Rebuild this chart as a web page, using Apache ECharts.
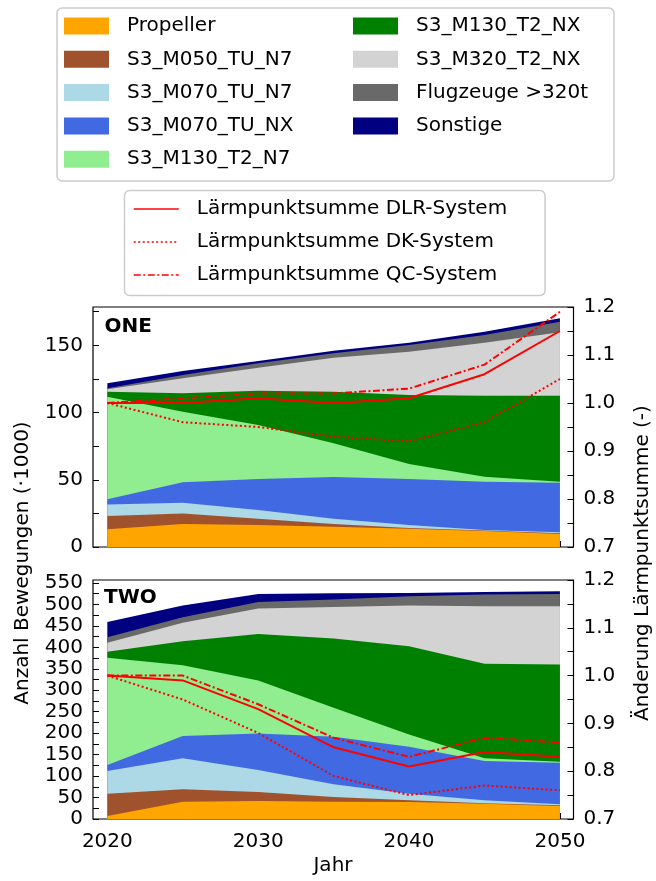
<!DOCTYPE html>
<html><head><meta charset="utf-8">
<script src="https://cdn.jsdelivr.net/npm/echarts@6/dist/echarts.min.js"></script>
<style>html,body{margin:0;padding:0;background:#fff}#c{width:656px;height:881px}</style>
</head><body><div id="c"></div><script>
const years = [2020, 2025, 2030, 2035, 2040, 2045, 2050];
const categories = ['Propeller', 'S3_M050_TU_N7', 'S3_M070_TU_N7', 'S3_M070_TU_NX', 'S3_M130_T2_N7', 'S3_M130_T2_NX', 'S3_M320_T2_NX', 'Flugzeuge >320t', 'Sonstige'];
const colors = ['#FFA500', '#A0522D', '#ADD8E6', '#4169E1', '#90EE90', '#008000', '#D3D3D3', '#696969', '#000080'];
const lineNames = ['Lärmpunktsumme DLR-System', 'Lärmpunktsumme DK-System', 'Lärmpunktsumme QC-System'];

// Scenario ONE (Anzahl Bewegungen, ·1000), per category
const oneProp    = [13.2, 17.1, 16.4, 15.1, 13.6, 11.9, 9.7];
const oneM050N7  = [9.9, 7.9, 4.7, 2.0, 0.5, 0.3, 0.5];
const oneM070N7  = [8.6, 8.0, 6.4, 4.0, 2.3, 0.4, 0.7];
const oneM070NX  = [3.8, 15.1, 23.1, 31.0, 34.2, 36.0, 36.9];
const oneM130N7  = [76.3, 52.5, 40.1, 25.0, 11.1, 3.7, 0.8];
const oneM130NX  = [3.7, 13.7, 25.6, 38.4, 51.4, 60.2, 63.9];
const oneM320NX  = [1.8, 11.2, 17.1, 25.3, 32.2, 39.5, 47.2];
const oneGt320   = [0.7, 2.4, 3.2, 3.3, 4.9, 5.7, 7.9];
const oneSonst   = [3.7, 3.0, 1.7, 1.9, 1.8, 2.4, 2.5];
// Scenario ONE, Lärmpunktsumme
const oneDLR = [1.0, 1.001, 1.008, 1.0, 1.012, 1.056, 1.151];
const oneDK  = [1.0, 0.961, 0.949, 0.928, 0.921, 0.959, 1.048];
const oneQC  = [1.0, 1.015, 1.025, 1.021, 1.035, 1.084, 1.185];

// Scenario TWO
const twoProp    = [7.0, 40.4, 41.9, 40.4, 39.6, 35.7, 30.3];
const twoM050N7  = [52.0, 28.7, 21.0, 10.8, 3.9, 0.8, 1.5];
const twoM070N7  = [52.8, 72.2, 51.2, 29.5, 15.5, 7.0, 2.4];
const twoM070NX  = [13.9, 51.9, 85.3, 110.9, 109.3, 91.5, 96.9];
const twoM130N7  = [249.9, 165.4, 123.5, 67.5, 28.9, 6.3, 2.3];
const twoM130NX  = [14.0, 55.8, 108.5, 161.6, 205.6, 220.3, 226.8];
const twoM320NX  = [20.9, 42.7, 59.2, 73.6, 94.8, 134.3, 135.7];
const twoGt320   = [13.3, 13.2, 15.3, 17.2, 21.6, 27.2, 28.7];
const twoSonst   = [35.6, 27.3, 18.7, 14.7, 7.7, 6.1, 6.3];
const twoDLR = [1.0, 0.987, 0.929, 0.848, 0.811, 0.844, 0.834];
const twoDK  = [1.0, 0.952, 0.881, 0.794, 0.745, 0.773, 0.763];
const twoQC  = [1.0, 0.997, 0.942, 0.865, 0.830, 0.865, 0.856];

// ticks
const xTicks = [2020, 2025, 2030, 2035, 2040, 2045, 2050];
const xLabels = [2020, 2030, 2040, 2050];
const yTicksOne = [0, 25, 50, 75, 100, 125, 150, 175];
const yLabelsOne = [0, 50, 100, 150];
const yTicksTwo = [0, 25, 50, 75, 100, 125, 150, 175, 200, 225, 250, 275, 300, 325, 350, 375, 400, 425, 450, 475, 500, 525, 550];
const yLabelsTwo = [0, 50, 100, 150, 200, 250, 300, 350, 400, 450, 500, 550];
const rTicks = [0.7, 0.75, 0.8, 0.85, 0.9, 0.95, 1.0, 1.05, 1.1, 1.15, 1.2];
const rLabels = [0.7, 0.8, 0.9, 1.0, 1.1, 1.2];

const FONT = 'DejaVu Sans';
const oneAreas = [oneProp, oneM050N7, oneM070N7, oneM070NX, oneM130N7, oneM130NX, oneM320NX, oneGt320, oneSonst];
const twoAreas = [twoProp, twoM050N7, twoM070N7, twoM070NX, twoM130N7, twoM130NX, twoM320NX, twoGt320, twoSonst];
const oneLines = [oneDLR, oneDK, oneQC];
const twoLines = [twoDLR, twoDK, twoQC];
const lineTypes = ['solid', [2, 2.5], [7, 2.5, 2, 2.5]];

// cumulative (stacked) tops, like a stackplot
function cumulative(areas) {
  const out = [];
  areas.forEach((vals, k) => {
    out.push(vals.map((v, i) => (k === 0 ? 0 : out[k - 1][i]) + v));
  });
  return out;
}
function pairs(vals) { return years.map((y, i) => [y, Math.round(vals[i] * 100) / 100]); }

const series = [];
function addPanel(areas, lines, gi) {
  const cum = cumulative(areas);
  // draw top layer first so lower layers cover it
  for (let k = cum.length - 1; k >= 0; k--) {
    series.push({
      type: 'line', name: categories[k], xAxisIndex: gi, yAxisIndex: gi * 2,
      data: pairs(cum[k]), symbol: 'none', showSymbol: false,
      lineStyle: { width: 0, color: colors[k] }, itemStyle: { color: colors[k] },
      areaStyle: { color: colors[k], opacity: 1, origin: 'start' }, z: 2, silent: true
    });
  }
  lines.forEach((vals, k) => {
    series.push({
      type: 'line', name: lineNames[k], xAxisIndex: gi, yAxisIndex: gi * 2 + 1,
      data: pairs(vals), symbol: 'none', showSymbol: false,
      lineStyle: { width: 2, color: '#FF0000', type: lineTypes[k] },
      itemStyle: { color: '#FF0000' }, z: 4, silent: true
    });
  });
}
addPanel(oneAreas, oneLines, 0);
addPanel(twoAreas, twoLines, 1);

const tickCommon = { show: true, inside: true, length: 6, lineStyle: { color: '#000', width: 1 } };
const labelCommon = { fontSize: 20, fontFamily: FONT, color: '#000' };

function xAxis(gi, showLabels) {
  return {
    type: 'value', gridIndex: gi, min: 2019.05, max: 2050.9,
    axisLine: { show: false }, splitLine: { show: false },
    axisTick: Object.assign({ customValues: xTicks }, tickCommon),
    axisLabel: Object.assign({ show: showLabels, customValues: xLabels, margin: 13, formatter: v => String(v) }, labelCommon)
  };
}
function yLeft(gi, max, ticks, labels) {
  return {
    type: 'value', gridIndex: gi, position: 'left', min: 0, max: max,
    axisLine: { show: false }, splitLine: { show: false },
    axisTick: Object.assign({ customValues: ticks }, tickCommon),
    axisLabel: Object.assign({ customValues: labels, margin: 10, formatter: v => String(v) }, labelCommon)
  };
}
function yRight(gi) {
  return {
    type: 'value', gridIndex: gi, position: 'right', min: 0.7, max: 1.2,
    axisLine: { show: false }, splitLine: { show: false },
    axisTick: Object.assign({ customValues: rTicks }, tickCommon),
    axisLabel: Object.assign({ customValues: rLabels, margin: 10, formatter: v => v.toFixed(1) }, labelCommon)
  };
}

const legendCommon = {
  orient: 'vertical', itemWidth: 45, itemHeight: 17, itemGap: 13.3, padding: 0,
  selectedMode: false, z: 10,
  textStyle: { fontSize: 20, fontFamily: FONT, color: '#000', lineHeight: 20, padding: [0, 0, 0, 13] }
};

const option = {
  animation: false,
  backgroundColor: '#fff',
  grid: [
    { left: 93, top: 307, width: 480.5, height: 240, show: true, borderColor: '#000', borderWidth: 1.2, backgroundColor: 'transparent' },
    { left: 93, top: 580, width: 480.5, height: 239, show: true, borderColor: '#000', borderWidth: 1.2, backgroundColor: 'transparent' }
  ],
  xAxis: [xAxis(0, false), xAxis(1, true)],
  yAxis: [yLeft(0, 178.5, yTicksOne, yLabelsOne), yRight(0), yLeft(1, 557, yTicksTwo, yLabelsTwo), yRight(1)],
  legend: [
    Object.assign({}, legendCommon, { data: categories.slice(0, 5), left: 64, top: 16, icon: 'rect' }),
    Object.assign({}, legendCommon, { data: categories.slice(5), left: 353, top: 16, icon: 'rect' }),
    Object.assign({}, legendCommon, { data: lineNames, left: 133, top: 199, itemGap: 13,
      itemStyle: { opacity: 0, borderWidth: 0 }, lineStyle: { width: 1.5 } })
  ],
  graphic: [
    { type: 'rect', z: 1, shape: { x: 57, y: 8, width: 557, height: 173, r: 5 }, style: { fill: 'rgba(255,255,255,0.8)', stroke: '#cccccc', lineWidth: 1.5 } },
    { type: 'rect', z: 1, shape: { x: 124.5, y: 190.5, width: 420.5, height: 105, r: 5 }, style: { fill: 'rgba(255,255,255,0.8)', stroke: '#cccccc', lineWidth: 1.5 } },
    { type: 'text', z: 20, x: 104.5, y: 327, style: { text: 'ONE', font: 'bold 20px "DejaVu Sans"', fill: '#000', verticalAlign: 'middle' } },
    { type: 'text', z: 20, x: 104, y: 598, style: { text: 'TWO', font: 'bold 20px "DejaVu Sans"', fill: '#000', verticalAlign: 'middle' } },
    { type: 'text', z: 20, x: 23, y: 563, rotation: Math.PI / 2, style: { text: 'Anzahl Bewegungen (·1000)', font: '20px "DejaVu Sans"', fill: '#000', align: 'center', verticalAlign: 'middle' } },
    { type: 'text', z: 20, x: 643, y: 563, rotation: Math.PI / 2, style: { text: 'Änderung Lärmpunktsumme (-)', font: '20px "DejaVu Sans"', fill: '#000', align: 'center', verticalAlign: 'middle' } },
    { type: 'text', z: 20, x: 333, y: 866, style: { text: 'Jahr', font: '20px "DejaVu Sans"', fill: '#000', align: 'center', verticalAlign: 'middle' } }
  ],
  series: series
};
const chart = echarts.init(document.getElementById('c'), null, { renderer: 'canvas' });
chart.setOption(option);
</script></body></html>
